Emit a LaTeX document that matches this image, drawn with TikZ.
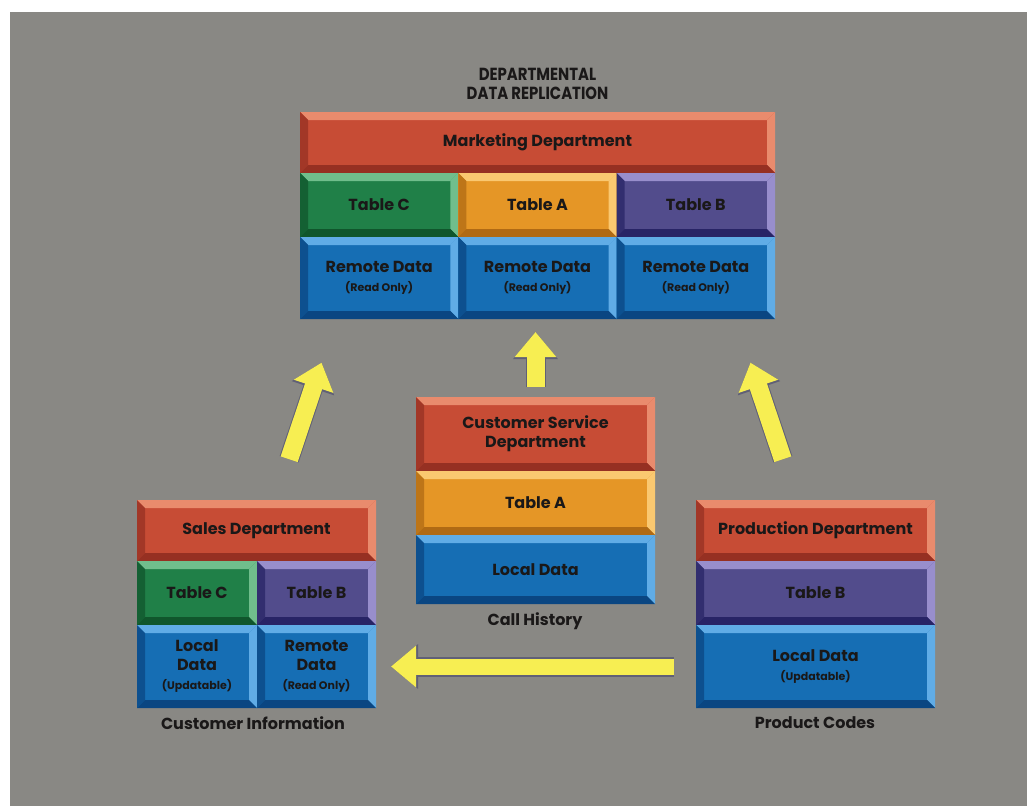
\documentclass[tikz,border=0pt]{standalone}
\usepackage{fontspec}
\setmainfont{Poppins}
\newfontfamily\titlefont{Poppins}[FakeStretch=0.85]
\usetikzlibrary{positioning, calc, arrows.meta}

\definecolor{bggray}{RGB}{137,136,132}
\definecolor{redF}{RGB}{199,76,53}
\definecolor{redL}{RGB}{233,139,109}
\definecolor{redD}{RGB}{150,48,34}
\definecolor{grnF}{RGB}{32,128,72}
\definecolor{grnL}{RGB}{112,190,140}
\definecolor{grnD}{RGB}{16,86,44}
\definecolor{orgF}{RGB}{229,150,38}
\definecolor{orgL}{RGB}{250,200,112}
\definecolor{orgD}{RGB}{176,106,20}
\definecolor{purF}{RGB}{82,76,140}
\definecolor{purL}{RGB}{152,142,204}
\definecolor{purD}{RGB}{40,36,102}
\definecolor{bluF}{RGB}{22,110,180}
\definecolor{bluL}{RGB}{96,172,230}
\definecolor{bluD}{RGB}{10,70,130}
\definecolor{arrowY}{RGB}{247,238,82}
\definecolor{arrowE}{RGB}{96,96,118}
\definecolor{ink}{RGB}{26,24,24}

\newcommand\smallnote[1]{{\fontsize{11}{13}\selectfont #1}}

\tikzset{
  panel/.style={fill=#1F, inner sep=0pt, outer sep=0pt, align=center, text=ink,
    font=\bfseries\fontsize{16}{19}\selectfont,
    path picture={
      \coordinate (nw) at (path picture bounding box.north west);
      \coordinate (ne) at (path picture bounding box.north east);
      \coordinate (sw) at (path picture bounding box.south west);
      \coordinate (se) at (path picture bounding box.south east);
      \coordinate (inw) at ($(nw)+(8pt,-8pt)$);
      \coordinate (ine) at ($(ne)+(-8pt,-8pt)$);
      \coordinate (isw) at ($(sw)+(8pt,8pt)$);
      \coordinate (ise) at ($(se)+(-8pt,8pt)$);
      \fill[#1L] (nw) -- (ne) -- (ine) -- (inw) -- cycle;
      \fill[#1L] (ne) -- (se) -- (ise) -- (ine) -- cycle;
      \fill[#1D!75!#1F] (nw) -- (sw) -- (isw) -- (inw) -- cycle;
      \fill[#1D] (sw) -- (se) -- (ise) -- (isw) -- cycle;
    }},
  deptbar/.style={minimum height=61pt},
  tblrow/.style={minimum height=64pt},
  datarow/.style={minimum height=83pt},
  caption/.style={text=ink, inner sep=0pt, font=\bfseries\fontsize{16}{19}\selectfont},
  title/.style={text=ink, inner sep=0pt, align=center,
    font=\titlefont\bfseries\fontsize{17.5}{19}\selectfont},
  bigarrow/.style={draw=arrowY, line width=18pt, -{Triangle[width=40pt,length=25pt]},
    preaction={draw=arrowE, line width=20pt, -{Triangle[width=43pt,length=27pt]}}}
}

\begin{document}
\begin{tikzpicture}[x=1pt, y=-1pt]
  \useasboundingbox (0,0) rectangle (1027,806);
  \fill[white] (0,0) rectangle (1027,806);
  \fill[bggray] (10,12) rectangle (1027,806);

  % marketing (top)
  \node[panel=red, deptbar, minimum width=475pt, anchor=north west] (mdept) at (300,112) {Marketing Department};
  \node[panel=grn, tblrow, minimum width=158.33pt, below right=0pt of mdept.south west] (mtablec) {Table C};
  \node[panel=org, tblrow, minimum width=158.33pt, right=0pt of mtablec] (mtablea) {Table A};
  \node[panel=pur, tblrow, minimum width=158.33pt, right=0pt of mtablea] (mtableb) {Table B};
  \node[panel=blu, minimum height=82pt, minimum width=158.33pt, below=0pt of mtablec] (mremc) {Remote Data\\\smallnote{(Read Only)}};
  \node[panel=blu, minimum height=82pt, minimum width=158.33pt, below=0pt of mtablea] (mrema) {Remote Data\\\smallnote{(Read Only)}};
  \node[panel=blu, minimum height=82pt, minimum width=158.33pt, below=0pt of mtableb] (mremb) {Remote Data\\\smallnote{(Read Only)}};
  \node[title, above=12pt of mdept] (title) {DEPARTMENTAL\\DATA REPLICATION};

  % sales
  \node[panel=red, deptbar, minimum width=239pt, anchor=north west] (sdept) at (137,500) {Sales Department};
  \node[panel=grn, tblrow, minimum width=120pt, below right=0pt of sdept.south west] (stablec) {Table C};
  \node[panel=pur, tblrow, minimum width=119pt, right=0pt of stablec] (stableb) {Table B};
  \node[panel=blu, datarow, minimum width=120pt, below=0pt of stablec] (slocal) {Local\\Data\\\smallnote{(Updatable)}};
  \node[panel=blu, datarow, minimum width=119pt, below=0pt of stableb] (sremote) {Remote\\Data\\\smallnote{(Read Only)}};
  \node[caption] (sinfo) at (253,723) {Customer Information};

  % customer service
  \node[panel=red, minimum height=74pt, minimum width=239pt, anchor=north west] (cdept) at (416,397) {Customer Service\\Department};
  \node[panel=org, tblrow, minimum width=239pt, below=0pt of cdept] (ctablea) {Table A};
  \node[panel=blu, minimum height=69pt, minimum width=239pt, below=0pt of ctablea] (clocal) {Local Data};
  \node[caption] (chist) at (535,621) {Call History};

  % production
  \node[panel=red, deptbar, minimum width=239pt, anchor=north west] (pdept) at (696,500) {Production Department};
  \node[panel=pur, tblrow, minimum width=239pt, below=0pt of pdept] (ptableb) {Table B};
  \node[panel=blu, datarow, minimum width=239pt, below=0pt of ptableb] (plocal) {Local Data\\\smallnote{(Updatable)}};
  \node[caption] (pcodes) at (815,723) {Product Codes};

  % replication arrows
  \draw[bigarrow, shorten <=43pt, shorten >=46pt] ($(sdept.north)+(19,0)$) -- ($(mremc.south)+(-43,0)$);
  \draw[bigarrow, shorten <=10pt, shorten >=13pt] (cdept.north) -- (cdept.north |- mrema.south);
  \draw[bigarrow, shorten <=43pt, shorten >=46pt] ($(pdept.north)+(-19,0)$) -- ($(mremb.south)+(40,0)$);
  \draw[bigarrow, line width=16pt, shorten <=22pt, shorten >=15pt] (plocal.west) -- (sremote.east);
\end{tikzpicture}
\end{document}
